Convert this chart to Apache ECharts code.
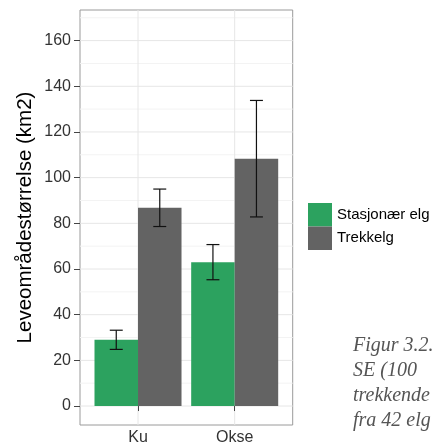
<!DOCTYPE html>
<html>
<head>
<meta charset="utf-8">
<script src="https://cdn.jsdelivr.net/npm/echarts@6/dist/echarts.min.js"></script>
<style>html,body{margin:0;padding:0;background:#fff;}#c{width:434px;height:447px;}</style>
</head>
<body>
<div id="c"></div>
<script>
// ---- data ----
var categories = ['Ku', 'Okse'];
var seriesNames = ['Stasjonær elg', 'Trekkelg'];
var stasjonaer = [29.0, 63.0];
var stasjonaerSE = [4.2, 7.7];
var trekkelg = [86.8, 108.3];
var trekkelgSE = [8.2, 25.5];
var yTicks = [0, 20, 40, 60, 80, 100, 120, 140, 160];
var captionLines = ['Figur 3.2.', 'SE (100', 'trekkende', 'fra 42 elg'];

// ---- layout constants ----
var Y_MIN = -8.3, Y_MAX = 173.4;
var X_MIN = 0.4, X_MAX = 2.6;
var HALF = 0.45;      // width of each dodged bar (data units)
var CAP = 0.067;      // half width of error bar caps
var colors = ['#2ca25f', '#636363'];

var catPos = categories.map(function (c, i) { return i + 1; });

// grid lines data
var gridData = [];
yTicks.forEach(function (v) { gridData.push([0, v, 0]); });
yTicks.forEach(function (v) { if (v + 10 <= Y_MAX) gridData.push([0, v + 10, 1]); });
catPos.forEach(function (p) { gridData.push([p, 0, 2]); });

function barData(vals) { return vals.map(function (v, i) { return [catPos[i], v]; }); }
function errData(vals, se, off) {
  return vals.map(function (v, i) { return [catPos[i] + off, v - se[i], v + se[i]]; });
}

function barRender(side) {
  return function (params, api) {
    var x = api.value(0), v = api.value(1);
    var x0 = side === 0 ? x - HALF : x;
    var x1 = side === 0 ? x : x + HALF;
    var p0 = api.coord([x0, v]);
    var p1 = api.coord([x1, 0]);
    return {
      type: 'rect',
      shape: { x: p0[0], y: p0[1], width: p1[0] - p0[0], height: p1[1] - p0[1] },
      style: { fill: api.visual('color') }
    };
  };
}

function errRender(params, api) {
  var x = api.value(0), lo = api.value(1), hi = api.value(2);
  var pl = api.coord([x, lo]), ph = api.coord([x, hi]);
  var a = api.coord([x - CAP, lo]), b = api.coord([x + CAP, lo]);
  var st = { stroke: '#111', lineWidth: 1.2 };
  return {
    type: 'group',
    children: [
      { type: 'line', shape: { x1: pl[0], y1: pl[1], x2: ph[0], y2: ph[1] }, style: st },
      { type: 'line', shape: { x1: a[0], y1: pl[1], x2: b[0], y2: pl[1] }, style: st },
      { type: 'line', shape: { x1: a[0], y1: ph[1], x2: b[0], y2: ph[1] }, style: st }
    ]
  };
}

function gridRender(params, api) {
  var cs = params.coordSys;
  var kind = api.value(2);
  if (kind === 2) {
    var px = api.coord([api.value(0), 0])[0];
    return { type: 'line', shape: { x1: px, y1: cs.y, x2: px, y2: cs.y + cs.height },
      style: { stroke: '#e6e6e6', lineWidth: 1 } };
  }
  var py = api.coord([X_MIN, api.value(1)])[1];
  return { type: 'line', shape: { x1: cs.x, y1: py, x2: cs.x + cs.width, y2: py },
    style: { stroke: kind === 0 ? '#e6e6e6' : '#f3f3f3', lineWidth: 1 } };
}

var chart = echarts.init(document.getElementById('c'), null, { renderer: 'canvas' });
var font = 'Liberation Sans, Arial, sans-serif';

chart.setOption({
  animation: false,
  backgroundColor: '#fff',
  textStyle: { fontFamily: font },
  grid: {
    left: 80, right: 141.3, top: 10, bottom: 22,
    show: true, borderColor: '#9a9a9a', borderWidth: 1, backgroundColor: '#fff'
  },
  legend: {
    data: seriesNames,
    orient: 'vertical',
    left: 308, top: 203,
    itemWidth: 24, itemHeight: 23.5, itemGap: 0,
    padding: 0,
    icon: 'rect',
    textStyle: { fontSize: 15, color: '#000', fontFamily: font }
  },
  xAxis: {
    type: 'value', min: X_MIN, max: X_MAX,
    axisLine: { show: false },
    splitLine: { show: false },
    axisTick: { show: true, customValues: catPos, length: 5, lineStyle: { color: '#444' } },
    axisLabel: {
      customValues: catPos, margin: 5, fontSize: 16, color: '#333', fontFamily: font,
      formatter: function (v) { return categories[Math.round(v) - 1] || ''; }
    }
  },
  yAxis: {
    type: 'value', min: Y_MIN, max: Y_MAX,
    name: 'Leveområdestørrelse (km2)',
    nameLocation: 'middle', nameGap: 44, nameRotate: 90,
    nameTextStyle: { fontSize: 20.5, color: '#000', fontFamily: font },
    axisLine: { show: false },
    splitLine: { show: false },
    axisTick: { show: true, customValues: yTicks, length: 6, lineStyle: { color: '#444' } },
    axisLabel: { customValues: yTicks, margin: 9, fontSize: 16, color: '#333', fontFamily: font }
  },
  series: [
    { type: 'custom', name: '_grid', silent: true, z: 0, data: gridData, renderItem: gridRender },
    { type: 'custom', name: seriesNames[0], z: 2, itemStyle: { color: colors[0] },
      data: barData(stasjonaer), renderItem: barRender(0) },
    { type: 'custom', name: seriesNames[1], z: 2, itemStyle: { color: colors[1] },
      data: barData(trekkelg), renderItem: barRender(1) },
    { type: 'custom', name: '_err1', z: 3, silent: true,
      data: errData(stasjonaer, stasjonaerSE, -HALF / 2), renderItem: errRender },
    { type: 'custom', name: '_err2', z: 3, silent: true,
      data: errData(trekkelg, trekkelgSE, HALF / 2), renderItem: errRender }
  ],
  graphic: captionLines.map(function (t, i) {
    return {
      type: 'text', left: 353, top: 336 + i * 25,
      style: { text: t, fontFamily: 'Liberation Serif, serif', fontStyle: 'italic',
        fontSize: 20, fill: '#555' }
    };
  })
});
</script>
</body>
</html>
